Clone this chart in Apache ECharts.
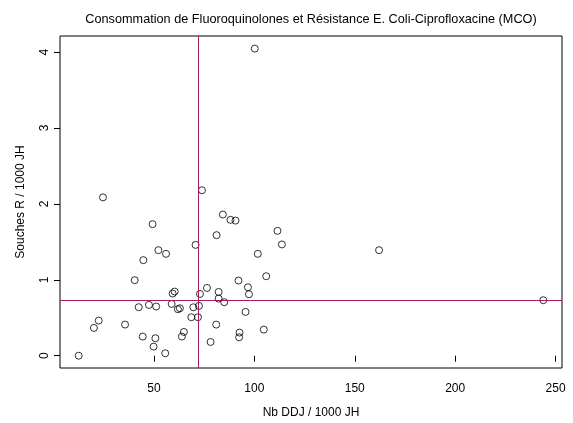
<!DOCTYPE html>
<html>
<head>
<meta charset="utf-8">
<script src="https://cdn.jsdelivr.net/npm/echarts@6/dist/echarts.min.js"></script>
<style>
  html, body { margin: 0; padding: 0; background: #fff; }
  #main { width: 573px; height: 423px; }
</style>
</head>
<body>
<div id="main"></div>
<script>
"use strict";

// Nb DDJ / 1000 JH
const ddj = [
    24.6, 73.9, 84.3, 88.1, 90.6, 111.5, 113.7, 81.2, 49.3, 70.7,
    52.2, 56.0, 44.7, 101.7, 105.9, 40.4, 92.1, 76.4, 96.8, 97.3,
    82.2, 60.3, 59.3, 72.9, 82.2, 85.0, 42.4, 47.5, 51.1, 58.8,
    61.9, 62.9, 69.6, 72.4, 68.6, 71.9, 95.6, 22.5, 20.1, 35.6,
    81.0, 44.4, 50.7, 49.8, 55.6, 64.9, 63.9, 78.2, 92.6, 92.4,
    104.7, 12.5, 100.2, 162.1, 243.9
];

// Souches R / 1000 JH
const souches = [
    2.086, 2.18, 1.86, 1.79, 1.78, 1.645, 1.466, 1.588, 1.733, 1.46,
    1.39, 1.342, 1.259, 1.342, 1.047, 0.995, 0.99, 0.893, 0.902, 0.81,
    0.84, 0.845, 0.819, 0.814, 0.753, 0.705, 0.639, 0.669, 0.648, 0.682,
    0.612, 0.625, 0.638, 0.656, 0.507, 0.507, 0.577, 0.463, 0.366, 0.41,
    0.41, 0.252, 0.23, 0.12, 0.032, 0.313, 0.252, 0.181, 0.305, 0.243,
    0.344, 0.0, 4.046, 1.39, 0.731
];

// lignes de référence
const refX = 72.0;
const refY = 0.731;

const xTicks = [50, 100, 150, 200, 250];
const yTicks = [0, 1, 2, 3, 4];

const font = 'Liberation Sans, Arial, Helvetica, sans-serif';
const refColor = '#A8185A';

const chart = echarts.init(document.getElementById('main'));

const points = ddj.map((x, i) => [x, souches[i]]);
const refStyle = { color: refColor, width: 1, type: 'solid' };

const option = {
    animation: false,
    backgroundColor: '#fff',
    title: {
        text: 'Consommation de Fluoroquinolones et Résistance E. Coli-Ciprofloxacine (MCO)',
        left: 306,
        top: 8,
        textAlign: 'center',
        textStyle: {
            fontFamily: font,
            fontSize: 12.7,
            fontWeight: 'normal',
            color: '#000'
        }
    },
    grid: {
        left: 60,
        right: 11,
        top: 36,
        bottom: 55,
        containLabel: false,
        outerBoundsMode: 'none',
        show: true,
        borderColor: '#000',
        borderWidth: 1
    },
    xAxis: {
        type: 'value',
        min: 3.2,
        max: 253.2,
        name: 'Nb DDJ / 1000 JH',
        nameLocation: 'middle',
        nameGap: 39,
        nameTextStyle: { fontFamily: font, fontSize: 12, color: '#000' },
        axisLine: { show: false },
        splitLine: { show: false },
        axisTick: {
            show: true,
            customValues: xTicks,
            length: 6,
            lineStyle: { color: '#000' }
        },
        axisLabel: {
            customValues: xTicks,
            margin: 15,
            fontFamily: font,
            fontSize: 12,
            color: '#000'
        }
    },
    yAxis: {
        type: 'value',
        min: -0.162,
        max: 4.212,
        name: 'Souches R / 1000 JH',
        nameLocation: 'middle',
        nameGap: 33,
        nameTextStyle: { fontFamily: font, fontSize: 12, color: '#000' },
        axisLine: { show: false },
        splitLine: { show: false },
        axisTick: {
            show: true,
            customValues: yTicks,
            length: 6,
            lineStyle: { color: '#000' }
        },
        axisLabel: {
            customValues: yTicks,
            rotate: 90,
            margin: 9,
            fontFamily: font,
            fontSize: 12,
            color: '#000'
        }
    },
    series: [{
        type: 'scatter',
        data: points,
        symbol: 'circle',
        symbolSize: 7,
        itemStyle: {
            color: 'rgba(0,0,0,0)',
            borderColor: '#000',
            borderWidth: 1
        },
        emphasis: { disabled: true },
        markLine: {
            silent: true,
            symbol: 'none',
            label: { show: false },
            lineStyle: refStyle,
            data: [
                { xAxis: refX, lineStyle: refStyle },
                { yAxis: refY, lineStyle: refStyle }
            ]
        }
    }]
};

chart.setOption(option);
</script>
</body>
</html>
